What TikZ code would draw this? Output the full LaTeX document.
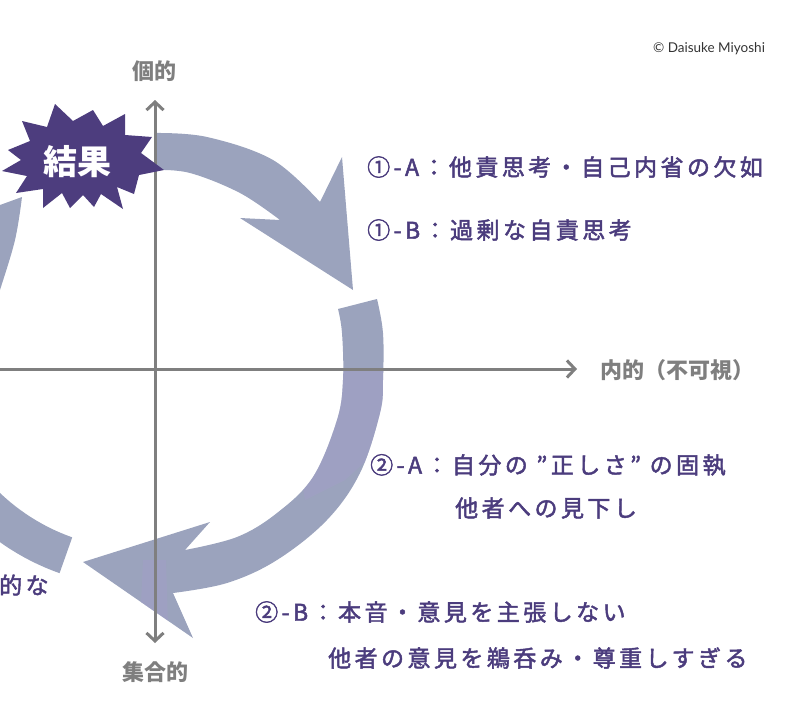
\documentclass[tikz,border=0pt]{standalone}
\usepackage{fontspec}
\usetikzlibrary{arrows.meta}
\setmainfont{Lato}
\newfontfamily\jp{Noto Sans CJK JP}
\newfontfamily\jpm[FakeBold=2,LetterSpace=15]{Noto Sans CJK JP}
\definecolor{band}{HTML}{9BA3BD}
\definecolor{bandtint}{HTML}{A29FC7}
\definecolor{ink}{HTML}{4B3C7D}
\definecolor{burst}{HTML}{4D3D7E}
\definecolor{axisgray}{HTML}{7F7F7F}
\tikzset{
  cyclearrow/.style={fill=band},
  axisline/.style={draw=axisgray, line width=3pt, -{Straight Barb[length=8pt,width=17pt,line width=3pt]}},
  axislabel/.style={text=axisgray, font=\jp\bfseries\fontsize{22}{26}\selectfont, inner sep=0pt},
  itemtext/.style={text=ink, font=\jpm\fontsize{23}{28}\selectfont, inner sep=0pt, anchor=west},
}
\def\arrowtwo{(338,309) -- plot[smooth,tension=0.6] coordinates {(377,299) (383,333) (383,380) (380,413) (360,473) (327,520) (277,560) (227,583) (173,593)}
  -- (193,638) -- (83,562) -- (210,522)
  -- plot[smooth,tension=0.6] coordinates {(185,550) (237,537) (277,513) (313,477) (337,420) (343,380) (342,333) (338,309)} -- cycle}
\begin{document}
\begin{tikzpicture}[x=1pt,y=-1pt]
\useasboundingbox (0,0) rectangle (800,701);
\clip (0,0) rectangle (800,701);
% cycle arrows
\fill[cyclearrow] plot[smooth,tension=0.6] coordinates {(155,133) (207,137) (273,160) (320,202)}
  -- (342,157) -- (353,290) -- (240,218)
  -- plot[smooth,tension=0.6] coordinates {(280,220) (240,193) (190,173) (155,170)} -- cycle;
\fill[cyclearrow] \arrowtwo;
\begin{scope}
  \clip \arrowtwo;
  \fill[bandtint, opacity=0.5] (330,371) -- (400,371) -- (400,430) -- (345,480) -- (305,500) -- (300,470) -- cycle;
  \fill[bandtint, opacity=0.5] (143,560) -- (166,560) -- (168,625) -- (140,625) -- cycle;
\end{scope}
\fill[cyclearrow] plot[domain=109.5:145,samples=20] ({140+203*cos(\x)},{346+203*sin(\x)})
  -- plot[domain=145:109.5,samples=20] ({140+241*cos(\x)},{346+241*sin(\x)}) -- cycle;
\fill[cyclearrow] (-40,208) -- (0,205) -- plot[smooth,tension=0.6] coordinates {(22,197) (15,240) (0,290) (-10,320)} -- (-40,320) -- cycle;
% axes
\coordinate (xl) at (-10,369);
\coordinate (xr) at (577,369);
\coordinate (yb) at (155,643);
\coordinate (yt) at (155,100);
\draw[axisline] (xl) -- (xr);
\draw[axisline, {Straight Barb[length=8pt,width=17pt,line width=3pt]}-{Straight Barb[length=8pt,width=17pt,line width=3pt]}] (yb) -- (yt);
% burst
\fill[burst] (8,150) -- (30,141) -- (22,121) -- (47,127) -- (55,104) -- (73,121) -- (93,110) -- (103,126) -- (125,114) -- (125,135) -- (152,137) -- (141,153) -- (164,170) -- (139,175) -- (134,194) -- (117,187) -- (123,209) -- (101,194) -- (94,207) -- (83,195) -- (70,208) -- (62,193) -- (43,208) -- (43,189) -- (16,193) -- (27,176) -- (2,171) -- (21,160) -- cycle;
\node[text=white, font=\jp\bfseries\fontsize{34}{40}\selectfont, inner sep=0pt] (result) at (77,162) {結果};
% axis labels
\node[axislabel] (ytop) at (154,71) {個的};
\node[axislabel] (ybot) at (155,672) {集合的};
\node[axislabel, anchor=west] (xright) at (600,370) {内的（不可視）};
% items
\node[itemtext] (a1) at (367,167) {①-A：他責思考・自己内省の欠如};
\node[itemtext] (b1) at (367,230) {①-B：過剰な自責思考};
\node[itemtext] (a2) at (370,465) {②-A：自分の ”正しさ” の固執};
\node[itemtext] (a2b) at (455,508) {他者への見下し};
\node[itemtext] (b2) at (255,612) {②-B：本音・意見を主張しない};
\node[itemtext] (b2b) at (328,658) {他者の意見を鵜呑み・尊重しすぎる};
\node[itemtext] (left) at (-1,585) {的な};
% copyright
\node[text=black!80, font=\fontsize{13.5}{16}\selectfont, inner sep=0pt] (copy) at (709,49) {© Daisuke Miyoshi};
\end{tikzpicture}
\end{document}
